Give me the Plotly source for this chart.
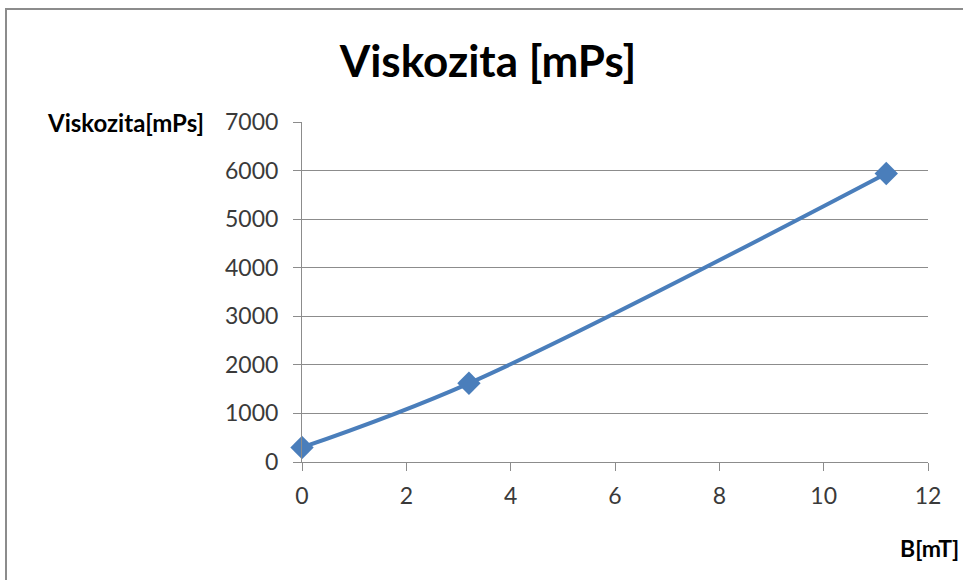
import plotly.graph_objects as go

# ── Data ──────────────────────────────────────────────────────────────────────
b_field = [0, 3.2, 11.2]          # B [mT]
viscosity = [300, 1620, 5940]     # Viskozita [mPs]
y_ticks = [0, 1000, 2000, 3000, 4000, 5000, 6000, 7000]
x_ticks = [0, 2, 4, 6, 8, 10, 12]

BLUE = "#4a7ebb"
GRID = "#8c8c8c"
FONT = "Lato"

# plot area in pixels (963x580 canvas)
L, R, T, B = 302, 35, 122, 118
W, H = 963 - L - R, 580 - T - B


def px_x(p):
    return (p - L) / W


def px_y(p):
    return (580 - B - p) / H


fig = go.Figure()
fig.add_trace(go.Scatter(
    x=b_field, y=viscosity,
    mode="lines+markers",
    line=dict(color=BLUE, width=4, shape="spline", smoothing=1),
    marker=dict(symbol="diamond", size=18, color=BLUE),
    cliponaxis=False,
    showlegend=False,
))

fig.update_layout(
    width=963, height=580,
    margin=dict(l=L, r=R, t=T, b=B),
    paper_bgcolor="white", plot_bgcolor="white",
    font=dict(family=FONT, color="#3a3a3a", size=23),
    title=dict(
        text="<b>Viskozita [mPs]</b>",
        font=dict(family=FONT, size=44, color="black"),
        x=488 / 963, xanchor="center",
        y=1 - 62 / 580, yanchor="middle",
    ),
    xaxis=dict(
        range=[0, 12], tickvals=x_ticks,
        showgrid=False, zeroline=False,
        showline=True, linecolor=GRID, linewidth=1,
        ticks="outside", ticklen=8, tickcolor=GRID,
        ticklabelstandoff=5,
        tickfont=dict(size=23, color="#3a3a3a"),
    ),
    yaxis=dict(
        range=[0, 7000], tickvals=y_ticks,
        showgrid=True, gridcolor=GRID, gridwidth=1,
        zeroline=False,
        showline=True, linecolor=GRID, linewidth=1,
        ticks="outside", ticklen=8, tickcolor=GRID,
        ticklabelstandoff=10,
        tickfont=dict(size=23, color="#3a3a3a"),
    ),
    annotations=[
        dict(text="<b>Viskozita[mPs]</b>", xref="paper", yref="paper",
             x=px_x(206), y=1, xanchor="right", yanchor="middle",
             showarrow=False, font=dict(family=FONT, size=24, color="black")),
        dict(text="<b>B[mT]</b>", xref="paper", yref="paper",
             x=px_x(961), y=px_y(548), xanchor="right", yanchor="middle",
             showarrow=False, font=dict(family=FONT, size=23, color="black")),
    ],
    shapes=[
        dict(type="rect", xref="paper", yref="paper",
             x0=px_x(6), y0=px_y(600), x1=px_x(1000), y1=px_y(9),
             line=dict(color=GRID, width=2), layer="below"),
    ],
)

fig.write_html("out.html", config={"displayModeBar": False},
               post_script="document.body.style.margin='0';")
